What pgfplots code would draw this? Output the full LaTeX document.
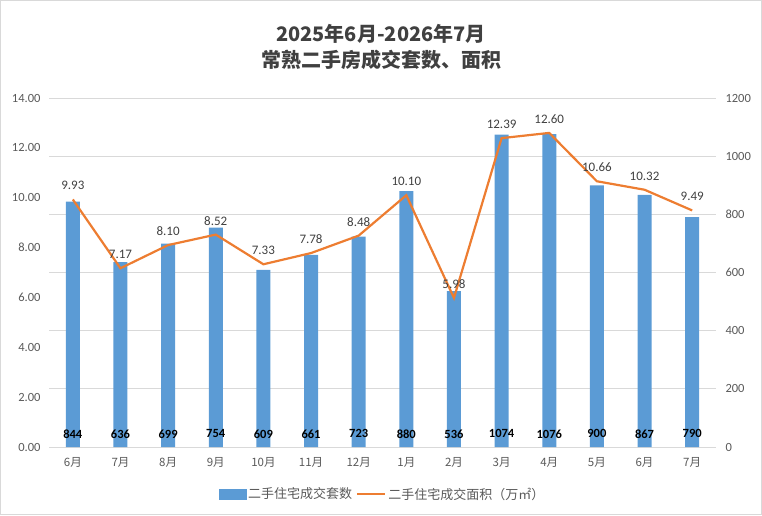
\documentclass[border=0pt]{standalone}
\usepackage{pgfplots}
\pgfplotsset{compat=1.18}
\usepackage{fontspec}
\setmainfont{Carlito}
\newfontfamily\cjk{Noto Sans CJK SC}
\definecolor{barblue}{HTML}{5B9BD5}
\definecolor{lineorange}{HTML}{ED7D31}
\definecolor{txt}{HTML}{595959}
\definecolor{ttl}{HTML}{404040}
\definecolor{gridc}{HTML}{D9D9D9}
\begin{document}
\begin{tikzpicture}
\useasboundingbox (0pt,0pt) rectangle (762pt,515pt);
\draw[color=gridc, line width=1pt] (0.5pt,0.5pt) rectangle (761.5pt,514.5pt);
\node[font=\cjk\bfseries\fontsize{20}{26}\selectfont, text=ttl, align=center] at (381pt,468pt) {2025年6月-2026年7月\\常熟二手房成交套数、面积};
% bars: right axis
\begin{axis}[
  at={(49pt,68pt)}, anchor=south west, scale only axis,
  width=667pt, height=349pt,
  xmin=-0.5, xmax=13.5, ymin=0, ymax=1200,
  ytick={0,200,...,1200}, yticklabel pos=right,
  xtick={0,...,13},
  xticklabels={6月,7月,8月,9月,10月,11月,12月,1月,2月,3月,4月,5月,6月,7月},
  xticklabel style={font=\cjk\fontsize{11.5}{13}\selectfont, text=txt, yshift=-7pt},
  yticklabel style={font=\fontsize{12.5}{14}\selectfont, text=txt, xshift=6pt},
  /pgf/number format/.cd, 1000 sep={}, assume math mode=true, /pgfplots/.cd,
  axis line style={draw=none}, tick style={draw=none}, major tick length=0pt,
  ymajorgrids, grid style={gridc, line width=0.8pt},
]
\addplot[ybar, bar width=14pt, fill=barblue, draw=none] coordinates {
(0,844) (1,636) (2,699) (3,754) (4,609) (5,661) (6,723) (7,880) (8,536) (9,1074) (10,1076) (11,900) (12,867) (13,790)};
\addplot[draw=none, mark=none, nodes near coords, point meta=explicit symbolic,
  nodes near coords style={font=\bfseries\fontsize{12.5}{14}\selectfont, text=black, anchor=center}] coordinates {
(0,45)[844] (1,45)[636] (2,45)[699] (3,45)[754] (4,45)[609] (5,45)[661] (6,45)[723] (7,45)[880] (8,45)[536] (9,45)[1074] (10,45)[1076] (11,45)[900] (12,45)[867] (13,45)[790]};
\end{axis}
% line: left axis
\begin{axis}[
  at={(49pt,68pt)}, anchor=south west, scale only axis,
  width=667pt, height=349pt,
  xmin=-0.5, xmax=13.5, ymin=0, ymax=14,
  ytick={0,2,...,14}, xtick=\empty,
  yticklabel style={font=\fontsize{12.5}{14}\selectfont, text=txt, xshift=-5pt},
  /pgf/number format/.cd, fixed, zerofill, precision=2, assume math mode=true, /pgfplots/.cd,
  axis line style={draw=none}, tick style={draw=none}, major tick length=0pt,
  legend style={at={(0.5,-0.135)}, anchor=center, draw=none, fill=none,
    legend columns=2, font=\cjk\fontsize{13}{15}\selectfont, text=txt,
    /tikz/every even column/.append style={column sep=2pt}},
]
\addlegendimage{legend image code/.code={\fill[barblue] (0pt,-5pt) rectangle (27pt,5pt);}}
\addlegendentry{二手住宅成交套数}
\addplot[lineorange, line width=2.2pt, mark=none,
  legend image code/.code={\draw[lineorange, line width=2.2pt] (0pt,0pt) -- (28pt,0pt);},
  nodes near coords,
  nodes near coords style={font=\fontsize{13}{15}\selectfont, text=ttl, anchor=south, yshift=5pt}] coordinates {
(0,9.93) (1,7.17) (2,8.10) (3,8.52) (4,7.33) (5,7.78) (6,8.48) (7,10.10) (8,5.98) (9,12.39) (10,12.60) (11,10.66) (12,10.32) (13,9.49)};
\addlegendentry{二手住宅成交面积（万㎡）}
\end{axis}
\end{tikzpicture}
\end{document}
